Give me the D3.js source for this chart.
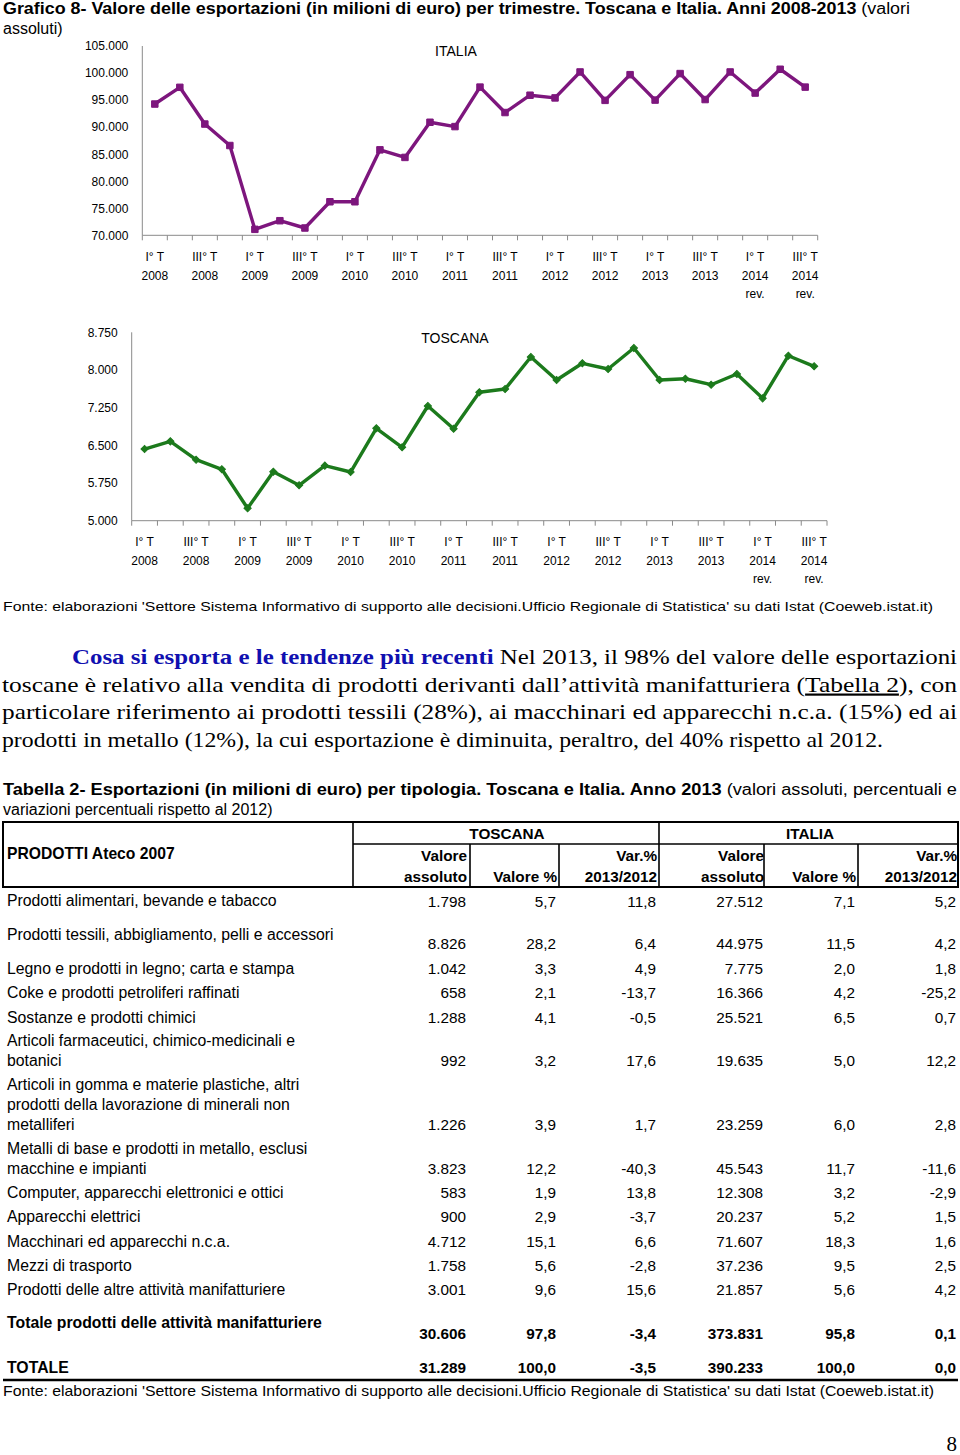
<!DOCTYPE html>
<html><head><meta charset="utf-8">
<script src="https://cdn.jsdelivr.net/npm/d3@7"></script>
<style>
body{margin:0;background:#fff}
svg{display:block}
text{font-family:Arial,"Liberation Sans",sans-serif;fill:#000}
.serif{font-family:"Times New Roman","Liberation Serif",serif}
</style>
</head><body>
<svg id="c" width="960" height="1455"></svg>
<script>
// ---------------- DATA ----------------
const quarters = ["I 2008","II 2008","III 2008","IV 2008","I 2009","II 2009","III 2009","IV 2009",
  "I 2010","II 2010","III 2010","IV 2010","I 2011","II 2011","III 2011","IV 2011",
  "I 2012","II 2012","III 2012","IV 2012","I 2013","II 2013","III 2013","IV 2013",
  "I 2014","II 2014","III 2014"];
const tickLabels = [["I° T","2008"],["III° T","2008"],["I° T","2009"],["III° T","2009"],
  ["I° T","2010"],["III° T","2010"],["I° T","2011"],["III° T","2011"],
  ["I° T","2012"],["III° T","2012"],["I° T","2013"],["III° T","2013"],
  ["I° T","2014","rev."],["III° T","2014","rev."]];
const italia = [94270,97360,90570,86600,71100,72700,71350,76200,76200,85800,84400,90900,90100,97400,
  92700,95900,95400,100200,94950,99700,95000,99900,95100,100200,96300,100700,97400];
const toscana = [6427,6580,6214,6023,5247,5975,5705,6095,5969,6839,6461,7283,6831,7556,
  7621,8258,7801,8133,8019,8437,7801,7826,7707,7920,7436,8284,8073];
const italiaTicks = [70000,75000,80000,85000,90000,95000,100000,105000];
const toscanaTicks = [5000,5750,6500,7250,8000,8750];

const products = [
  ["Prodotti alimentari, bevande e tabacco"],
  ["Prodotti tessili, abbigliamento, pelli e accessori"],
  ["Legno e prodotti in legno; carta e stampa"],
  ["Coke e prodotti petroliferi raffinati"],
  ["Sostanze e prodotti chimici"],
  ["Articoli farmaceutici, chimico-medicinali e","botanici"],
  ["Articoli in gomma e materie plastiche, altri","prodotti della lavorazione di minerali non","metalliferi"],
  ["Metalli di base e prodotti in metallo, esclusi","macchine e impianti"],
  ["Computer, apparecchi elettronici e ottici"],
  ["Apparecchi elettrici"],
  ["Macchinari ed apparecchi n.c.a."],
  ["Mezzi di trasporto"],
  ["Prodotti delle altre attività manifatturiere"],
  ["Totale prodotti delle attività manifatturiere"],
  ["TOTALE"]
];
const toscAbs = [1798,8826,1042,658,1288,992,1226,3823,583,900,4712,1758,3001,30606,31289];
const toscPct = [5.7,28.2,3.3,2.1,4.1,3.2,3.9,12.2,1.9,2.9,15.1,5.6,9.6,97.8,100.0];
const toscVar = [11.8,6.4,4.9,-13.7,-0.5,17.6,1.7,-40.3,13.8,-3.7,6.6,-2.8,15.6,-3.4,-3.5];
const itAbs = [27512,44975,7775,16366,25521,19635,23259,45543,12308,20237,71607,37236,21857,373831,390233];
const itPct = [7.1,11.5,2.0,4.2,6.5,5.0,6.0,11.7,3.2,5.2,18.3,9.5,5.6,95.8,100.0];
const itVar = [5.2,4.2,1.8,-25.2,0.7,12.2,2.8,-11.6,-2.9,1.5,1.6,2.5,4.2,0.1,0.0];
const boldRows = [13,14];

// ---------------- LAYOUT ----------------
const svg = d3.select("#c");
const loc = d3.formatLocale({decimal:",",thousands:".",grouping:[3],currency:["","€"],minus:"-"});
const fInt = loc.format(",.0f"), f1 = loc.format(",.1f");
const fonte = "Fonte: elaborazioni 'Settore Sistema Informativo di supporto alle decisioni.Ufficio Regionale di Statistica' su dati Istat (Coeweb.istat.it)";

// Title
const t1 = svg.append("text").attr("x",3).attr("y",14).attr("font-size",16)
  .attr("textLength",907).attr("lengthAdjust","spacingAndGlyphs");
t1.append("tspan").attr("font-weight","bold").text("Grafico 8- Valore delle esportazioni (in milioni di euro) per trimestre. Toscana e Italia. Anni 2008-2013");
t1.append("tspan").text(" (valori");
svg.append("text").attr("x",3).attr("y",34).attr("font-size",16).text("assoluti)");

function drawChart(o){
  const g = svg.append("g");
  const x = d3.scaleBand().domain(quarters).range([o.x0,o.x1]).paddingInner(0).paddingOuter(0);
  const y = d3.scaleLinear().domain(o.domain).range([o.yb,o.yt]);
  const ya = d3.axisLeft(y).tickValues(o.ticks).tickSize(0).tickPadding(14).tickFormat(fInt);
  const yg = g.append("g").attr("transform",`translate(${o.x0},0)`).call(ya);
  yg.select(".domain").remove();
  yg.selectAll("text").attr("font-size",12).attr("font-family","Arial, 'Liberation Sans', sans-serif").attr("fill","#000");
  g.append("line").attr("x1",o.x0).attr("x2",o.x0).attr("y1",y(o.domain[1])).attr("y2",y(o.domain[0]))
    .attr("stroke","#8a8a8a").attr("stroke-width",1);
  g.append("line").attr("x1",o.x0).attr("x2",o.x1).attr("y1",y(o.domain[0])).attr("y2",y(o.domain[0]))
    .attr("stroke","#8a8a8a").attr("stroke-width",1);
  d3.range(quarters.length+1).forEach(i=>{
    const xx = o.x0 + i*x.step();
    g.append("line").attr("x1",xx).attr("x2",xx).attr("y1",y(o.domain[0])).attr("y2",y(o.domain[0])+5)
      .attr("stroke","#8a8a8a").attr("stroke-width",1);
  });
  tickLabels.forEach((lab,i)=>{
    const cx = x(quarters[i*2]) + x.bandwidth()/2;
    lab.forEach((s,j)=>{
      g.append("text").attr("x",cx).attr("y",o.labY + j*18.5).attr("text-anchor","middle")
        .attr("font-size",12).text(s);
    });
  });
  g.append("text").attr("x",o.titleX).attr("y",o.titleY).attr("text-anchor","middle").attr("font-size",14).text(o.title);
  const line = d3.line().x((d,i)=>x(quarters[i])+x.bandwidth()/2).y(d=>y(d));
  g.append("path").datum(o.data).attr("d",line).attr("fill","none").attr("stroke",o.color)
    .attr("stroke-width",3.4).attr("stroke-linejoin","round");
  const sym = d3.symbol().type(d3.symbolSquare).size(o.symSize);
  g.selectAll(".m").data(o.data).join("path")
    .attr("transform",(d,i)=>`translate(${x(quarters[i])+x.bandwidth()/2},${y(d)})`+(o.diamond?" rotate(45)":""))
    .attr("d",sym).attr("fill",o.color).attr("stroke",o.color).attr("stroke-width",1);
}

drawChart({x0:142.3,x1:817.7,yt:46,yb:235.3,domain:[70000,105000],ticks:italiaTicks,data:italia,
  color:"#7d167d",diamond:false,symSize:42,labY:261,title:"ITALIA",titleX:456,titleY:56});
drawChart({x0:131.7,x1:827,yt:332.3,yb:520.7,domain:[5000,8750],ticks:toscanaTicks,data:toscana,
  color:"#1c7a1c",diamond:true,symSize:26,labY:546,title:"TOSCANA",titleX:455,titleY:343});

// Fonte 1
svg.append("text").attr("x",3).attr("y",611).attr("font-size",13.5)
  .attr("textLength",930).attr("lengthAdjust","spacingAndGlyphs").text(fonte);

// Paragraph
const pl = [
  {x:72,len:885,parts:[{t:"Cosa si esporta e le tendenze più recenti",b:true},{t:" Nel 2013, il 98% del valore delle esportazioni"}]},
  {x:2,len:955,parts:[{t:"toscane è relativo alla vendita di prodotti derivanti dall’attività manifatturiera ("},{t:"Tabella 2",u:true},{t:"), con"}]},
  {x:2,len:955,parts:[{t:"particolare riferimento ai prodotti tessili (28%), ai macchinari ed apparecchi n.c.a. (15%) ed ai"}]},
  {x:2,len:881,parts:[{t:"prodotti in metallo (12%), la cui esportazione è diminuita, peraltro, del 40% rispetto al 2012."}]}
];
pl.forEach((l,i)=>{
  const t = svg.append("text").attr("class","serif").attr("x",l.x).attr("y",664+i*27.5).attr("font-size",22)
    .attr("textLength",l.len).attr("lengthAdjust","spacingAndGlyphs");
  l.parts.forEach(p=>{
    const s = t.append("tspan").text(p.t);
    if(p.b) s.attr("font-weight","bold").attr("fill","#1010b0");
    if(p.u) s.attr("text-decoration","underline");
  });
});

// Table title
const tt = svg.append("text").attr("x",3).attr("y",795).attr("font-size",16)
  .attr("textLength",954).attr("lengthAdjust","spacingAndGlyphs");
tt.append("tspan").attr("font-weight","bold").text("Tabella 2- Esportazioni (in milioni di euro) per tipologia. Toscana e Italia. Anno 2013");
tt.append("tspan").text(" (valori assoluti, percentuali e");
svg.append("text").attr("x",3).attr("y",815).attr("font-size",16).text("variazioni percentuali rispetto al 2012)");

// Table header
const numR = [466,556,656,763,855,956];
const tb = svg.append("g");
const L = (x1,y1,x2,y2,w)=>tb.append("line").attr("x1",x1).attr("y1",y1).attr("x2",x2).attr("y2",y2).attr("stroke","#000").attr("stroke-width",w);
L(3,822,958,822,2); L(3,887,958,887,2.2); L(3,821,3,888,2); L(958,821,958,888,2);
L(353,822,353,887,1.6); L(659,822,659,887,1.6); L(353,844,958,844,1.6);
[470,559,764,858].forEach(xx=>L(xx,844,xx,887,1.6));
tb.append("text").attr("x",7).attr("y",859).attr("font-size",15.7).attr("font-weight","bold").text("PRODOTTI Ateco 2007");
tb.append("text").attr("x",507).attr("y",839).attr("font-size",15.3).attr("font-weight","bold").attr("text-anchor","middle").text("TOSCANA");
tb.append("text").attr("x",810).attr("y",839).attr("font-size",15.3).attr("font-weight","bold").attr("text-anchor","middle").text("ITALIA");
const hdr = [["Valore","assoluto"],["","Valore %"],["Var.%","2013/2012"],["Valore","assoluto"],["","Valore %"],["Var.%","2013/2012"]];
hdr.forEach((h,i)=>{
  h.forEach((s,j)=>{ if(s) tb.append("text").attr("x",numR[i]+1).attr("y",861+j*21).attr("text-anchor","end")
    .attr("font-size",15.3).attr("font-weight","bold").text(s); });
});

// Table rows
const labelY = [906,940,974,998,1023,1046,1090,1154,1198,1222,1247,1271,1295,1328,1373];
const numY   = [907,949,974,998,1023,1066,1130,1174,1198,1222,1247,1271,1295,1339,1373];
products.forEach((p,i)=>{
  const bold = boldRows.includes(i);
  p.forEach((s,j)=>tb.append("text").attr("x",7).attr("y",labelY[i]+j*20).attr("font-size",15.8)
    .attr("font-weight",bold?"bold":null).text(s));
  const vals = [fInt(toscAbs[i]),f1(toscPct[i]),f1(toscVar[i]),fInt(itAbs[i]),f1(itPct[i]),f1(itVar[i])];
  vals.forEach((v,k)=>tb.append("text").attr("x",numR[k]).attr("y",numY[i]).attr("text-anchor","end")
    .attr("font-size",15.3).attr("font-weight",bold?"bold":null).text(v));
});
L(3,1380,958,1380,2.5);

// Fonte 2
svg.append("text").attr("x",3).attr("y",1396).attr("font-size",15)
  .attr("textLength",931).attr("lengthAdjust","spacingAndGlyphs").text(fonte);
svg.append("text").attr("class","serif").attr("x",957).attr("y",1451).attr("text-anchor","end").attr("font-size",21).text("8");
</script>
</body></html>
